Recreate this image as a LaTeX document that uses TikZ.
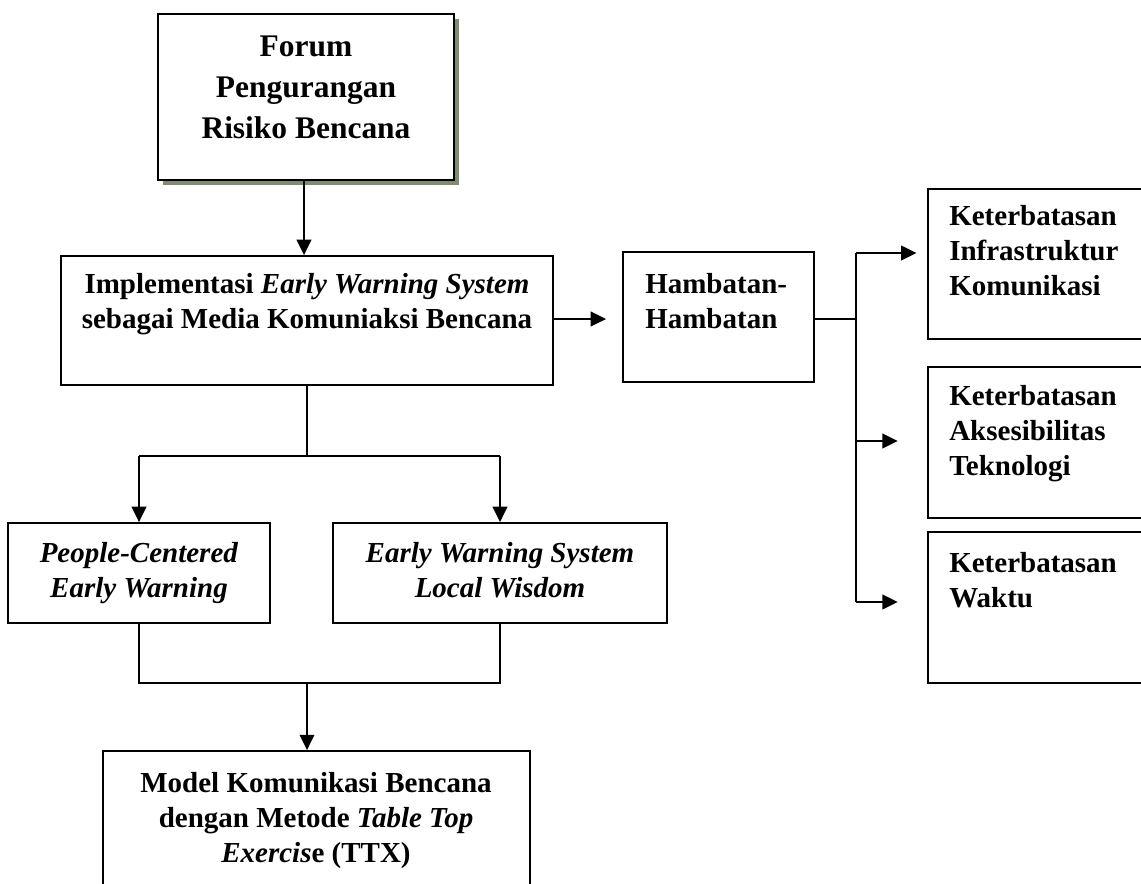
\documentclass[tikz,border=0pt]{standalone}
\usepackage{fontspec}
\setmainfont{Liberation Serif}
\usetikzlibrary{arrows.meta,fit,shadows}
\definecolor{shadowc}{RGB}{128,140,112}
\begin{document}
\begin{tikzpicture}[x=0.75pt,y=-0.75pt,
  box/.style={draw=black,line width=1.4pt,inner sep=0pt,fill=white},
  txt/.style={inner sep=0pt,font=\fontsize{21.75pt}{26.25pt}\selectfont\bfseries},
  conn/.style={line width=1.4pt},
  arr/.style={line width=1.4pt,-{Triangle[length=11.5pt,width=11pt]}}]
\useasboundingbox (0,0) rectangle (1141,883);
% corner coordinates
\coordinate (f1) at (158,14);  \coordinate (f2) at (454,180);
\coordinate (i1) at (61,256);  \coordinate (i2) at (553,385);
\coordinate (h1) at (623,252); \coordinate (h2) at (814,382);
\coordinate (k11) at (928,189); \coordinate (k12) at (1160,339);
\coordinate (k21) at (928,367); \coordinate (k22) at (1160,518);
\coordinate (k31) at (928,532); \coordinate (k32) at (1160,683);
\coordinate (p1) at (8,523);   \coordinate (p2) at (270,623);
\coordinate (l1) at (333,523); \coordinate (l2) at (667,623);
\coordinate (m1) at (103,751); \coordinate (m2) at (530,910);
% boxes
\node[box,line width=2.2pt,fit=(f1)(f2),drop shadow={shadow xshift=3.5pt,shadow yshift=-3.5pt,fill=shadowc,opacity=1}] (forum) {};
\node[box,fit=(i1)(i2)] (impl) {};
\node[box,fit=(h1)(h2)] (hamb) {};
\node[box,fit=(k11)(k12)] (ket1) {};
\node[box,fit=(k21)(k22)] (ket2) {};
\node[box,fit=(k31)(k32)] (ket3) {};
\node[box,fit=(p1)(p2)] (people) {};
\node[box,fit=(l1)(l2)] (local) {};
\node[box,fit=(m1)(m2)] (model) {};
% texts
\node[txt,align=center,anchor=north,font=\fontsize{23.6pt}{30.5pt}\selectfont\bfseries] (forumT) at (306,36) {Forum\\Pengurangan\\Risiko Bencana};
\node[txt,align=center,anchor=north] (implT) at (307,273) {Implementasi \textit{Early Warning System}\\sebagai Media Komuniaksi Bencana};
\node[txt,align=left,anchor=north west] (hambT) at (645,273) {Hambatan-\\Hambatan};
\node[txt,align=left,anchor=north west] (ket1T) at (949,205) {Keterbatasan\\Infrastruktur\\Komunikasi};
\node[txt,align=left,anchor=north west] (ket2T) at (949,385) {Keterbatasan\\Aksesibilitas\\Teknologi};
\node[txt,align=left,anchor=north west] (ket3T) at (949,552) {Keterbatasan\\Waktu};
\node[txt,align=center,anchor=north] (peopleT) at (139,542) {\textit{People-Centered}\\\textit{Early Warning}};
\node[txt,align=center,anchor=north] (localT) at (500,542) {\textit{Early Warning System}\\\textit{Local Wisdom}};
\node[txt,align=center,anchor=north] (modelT) at (316,772) {Model Komunikasi Bencana\\dengan Metode \textit{Table Top}\\\textit{Exercis}e (TTX)};
% junction coordinates
\coordinate (j1) at (856,253);
\coordinate (j2) at (856,441);
\coordinate (j3) at (856,602);
\coordinate (split) at (307,456);
\coordinate (merge) at (307,683);
% connectors
\draw[arr] (forum.south -| 304,0) -- (impl.north -| 304,0);
\draw[arr,shorten >=12pt] (impl.east |- 0,319) -- (hamb.west |- 0,319);
\draw[conn] (hamb.east |- 0,319) -- (j1 |- 0,319);
\draw[conn] (j1) -- (j3);
\draw[arr,shorten >=8pt] (j1) -- (j1 -| ket1.west);
\draw[arr,shorten >=22pt] (j2) -- (j2 -| ket2.west);
\draw[arr,shorten >=22pt] (j3) -- (j3 -| ket3.west);
\draw[conn] (impl.south -| split) -- (split);
\draw[conn] (people.north |- split) -- (local.north |- split);
\draw[arr] (people.north |- split) -- (people.north);
\draw[arr] (local.north |- split) -- (local.north);
\draw[conn] (people.south) -- (people.south |- merge) -- (local.south |- merge) -- (local.south);
\draw[arr] (merge) -- (merge |- model.north);
\end{tikzpicture}
\end{document}
